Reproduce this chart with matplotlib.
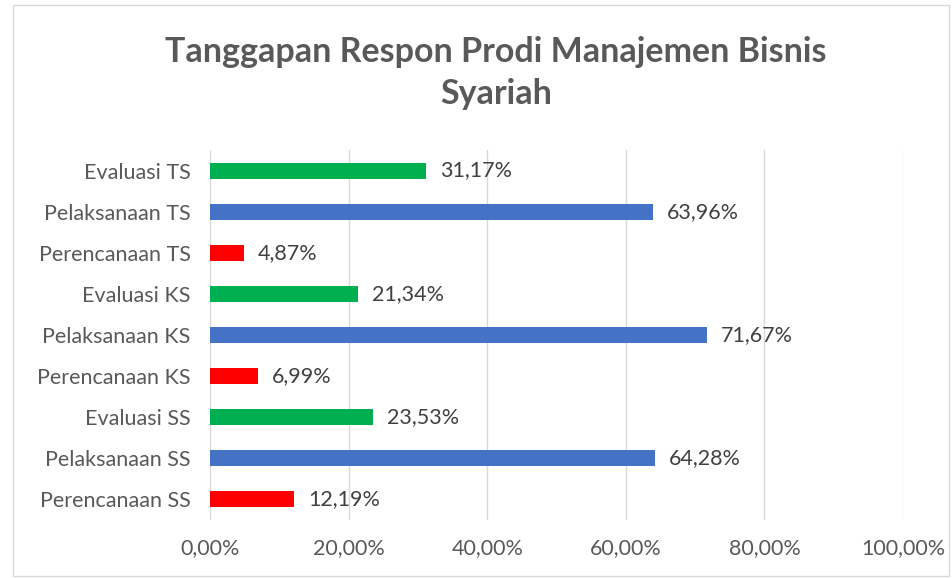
import matplotlib.pyplot as plt
from matplotlib.patches import Rectangle
from matplotlib.ticker import FuncFormatter

# data (bottom to top, as drawn)
categories = ['Perencanaan SS', 'Pelaksanaan SS', 'Evaluasi SS',
              'Perencanaan KS', 'Pelaksanaan KS', 'Evaluasi KS',
              'Perencanaan TS', 'Pelaksanaan TS', 'Evaluasi TS']
values = [12.19, 64.28, 23.53,
          6.99, 71.67, 21.34,
          4.87, 63.96, 31.17]
colors = ['#FF0000', '#4472C4', '#00B050'] * 3
xticks = [0, 20, 40, 60, 80, 100]

plt.rcParams['font.family'] = ['Lato', 'DejaVu Sans']
txt = '#595959'

fig = plt.figure(figsize=(9.52, 5.78), dpi=100)
fig.patches.append(Rectangle((13/952, 2/578), 936/952, 571/578, transform=fig.transFigure,
                             fill=False, edgecolor='#D9D9D9', linewidth=1))

ax = fig.add_axes([210/952, 1-520/578, 693/952, 370/578])
y = range(len(categories))
ax.barh(y, values, height=0.39, color=colors, zorder=2)

for i, v in enumerate(values):
    ax.annotate(f'{v:.2f}%'.replace('.', ','), (v, i), xytext=(10, 0),
                textcoords='offset points', va='center', ha='left',
                fontsize=15.5, color='#404040')

ax.set_xlim(0, 100)
ax.set_ylim(-0.5, len(categories)-0.5)
ax.set_xticks(xticks)
ax.xaxis.set_major_formatter(FuncFormatter(lambda v, p: f'{v:.2f}%'.replace('.', ',')))
ax.set_yticks(list(y))
ax.set_yticklabels(categories)
ax.tick_params(axis='both', length=0, labelsize=15.5, colors=txt)
ax.tick_params(axis='x', pad=13)
ax.tick_params(axis='y', pad=14)
ax.grid(axis='x', color='#D9D9D9', linewidth=1, zorder=0)
for s in ax.spines.values():
    s.set_visible(False)

fig.text(496/952, 1-73/578, 'Tanggapan Respon Prodi Manajemen Bisnis\nSyariah',
         ha='center', va='center', fontsize=24.5, fontweight='bold', color=txt,
         linespacing=1.4)

fig.savefig('out.png', dpi=100)
